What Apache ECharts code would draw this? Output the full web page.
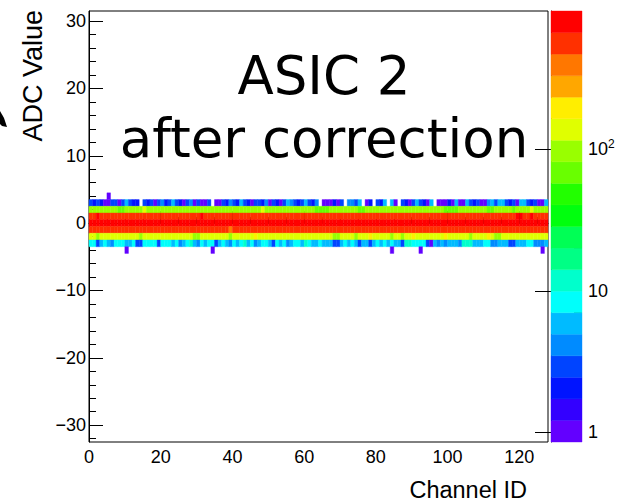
<!DOCTYPE html>
<html>
<head>
<meta charset="utf-8">
<script src="https://cdn.jsdelivr.net/npm/echarts@6.0.0/dist/echarts.min.js"></script>
<style>
html,body{margin:0;padding:0;background:#fff}
#chart{width:625px;height:502px}
</style>
</head>
<body>
<div id="chart"></div>
<script>
// counts per channel (0..127) for each ADC value row
const row4 = [
  0,0,0,0,0,1,0,0,0,0,0,0,0,0,0,0, 0,0,0,0,0,0,0,0,0,0,0,0,0,0,0,0,
  0,0,0,0,0,0,0,0,0,0,0,0,0,0,0,0, 0,0,0,0,0,0,0,0,0,0,0,0,0,0,0,0,
  0,0,0,0,0,0,0,0,0,0,0,0,0,0,0,0, 0,0,0,0,0,0,0,0,0,0,0,0,0,0,0,0,
  0,0,0,0,0,0,0,0,0,0,0,0,0,0,0,0, 0,0,0,0,0,0,0,0,0,0,0,0,0,0,0,0]
const row3 = [
  3,2,3,2,1,1,3,3,1,3,6,3,2,2,0,3, 2,3,1,3,4,2,3,6,3,2,1,3,4,1,3,1,
  1,3,0,1,1,3,2,4,3,2,6,3,2,1,3,3, 2,4,1,3,2,1,3,6,4,3,2,3,6,3,2,4,
  0,1,1,1,2,1,3,0,4,4,3,6,0,1,2,0, 3,2,6,0,6,1,0,3,2,1,3,6,3,2,1,6,
  0,1,1,1,2,1,6,1,1,6,3,2,3,1,1,4, 6,3,6,6,3,2,3,1,6,6,3,2,3,1,1,6]
const row2 = [
  96,94,98,93,97,95,92,99,76,78,95,97,93,96,94,128, 95,98,93,96,94,91,97,95,99,93,96,94,98,92,95,97,
  93,96,94,99,92,95,97,93,96,94,98,95,92,96,94,97, 124,95,93,97,94,96,92,98,95,93,97,94,96,95,93,75,
  74,78,77,95,93,97,94,96,92,98,95,76,79,94,96,93, 97,95,93,96,94,98,92,95,97,93,96,94,99,95,93,96,
  94,97,95,78,76,79,77,95,93,96,94,98,92,95,97,76, 77,95,93,96,94,98,75,93,96,94,97,126,95,93,96,94]
const row1 = [
  612,598,702,605,590,617,601,594,608,622,596,611,603,589,615,600, 607,593,619,604,598,612,590,606,617,601,595,609,620,597,604,698,
  611,596,603,618,592,607,600,614,599,606,621,593,610,602,597,615, 604,591,612,598,607,619,595,603,610,597,616,601,594,608,613,599,
  606,618,593,602,611,596,605,620,598,609,592,614,603,597,610,601, 616,594,607,599,612,603,590,618,605,596,611,600,608,593,615,602,
  597,610,604,619,592,606,613,598,601,617,595,609,603,612,596,620, 605,599,611,594,608,615,600,705,696,612,603,708,597,610,604,618]
const row0 = [
  842,831,856,825,848,837,819,852,840,828,861,834,845,823,850,838, 829,855,841,820,847,836,858,827,843,832,849,824,853,839,830,846,
  835,857,822,844,851,833,826,848,840,859,828,845,837,821,854,842, 831,849,838,824,856,843,829,847,835,852,826,841,858,833,846,820,
  850,837,844,828,855,832,841,823,848,836,859,827,845,834,851,839, 825,853,842,830,847,821,856,838,833,849,827,844,835,852,840,829,
  846,834,857,822,843,850,831,839,854,826,845,836,828,851,841,833, 848,824,855,837,842,830,853,845,827,839,850,832,846,821,858,840]
const rowM1 = [
  583,571,590,566,579,594,575,587,569,582,596,573,588,577,565,591, 578,585,570,593,581,567,589,576,584,572,595,580,568,586,574,592,
  579,570,588,583,566,594,577,425,585,573,590,581,569,587,575,592, 582,571,589,578,595,567,584,576,591,572,586,580,568,593,579,574,
  588,575,583,569,592,581,577,590,566,585,573,594,579,571,587,582, 576,591,568,584,580,573,589,578,595,570,586,581,567,592,575,583,
  590,572,585,579,568,594,577,583,571,588,580,566,593,576,584,574, 589,581,570,592,578,585,567,590,575,583,572,588,580,569,594,577]
const rowM2 = [
  140,138,105,145,142,150,137,148,141,139,152,144,136,147,108,143, 149,141,138,155,146,140,144,137,151,142,139,148,143,110,104,146,
  141,150,138,145,142,137,149,112,144,140,153,139,146,141,170,138, 145,142,139,150,137,144,148,141,143,139,152,140,146,138,145,142,
  148,139,144,141,107,109,146,142,138,150,106,143,140,147,178,141, 145,139,152,140,103,144,141,111,146,138,172,143,140,149,141,145,
  139,147,142,168,140,145,138,151,143,140,108,146,141,139,149,180, 142,110,105,145,140,148,138,144,151,139,146,141,143,137,149,142]
const rowM3 = [
  8,8,3,6,8,6,4,8,8,8,6,6,8,3,3,8, 8,8,8,3,8,8,8,6,8,4,6,8,11,6,4,8,
  6,8,8,3,6,8,6,4,8,6,8,11,6,8,4,6, 8,8,6,3,8,6,8,4,6,8,8,6,11,8,6,6,
  8,6,6,6,3,3,6,8,6,8,6,3,6,6,3,6, 8,6,8,6,8,6,6,3,11,11,8,8,8,8,3,1,
  6,4,6,4,6,6,6,4,11,11,11,6,6,6,8,8, 4,4,6,6,6,3,3,6,6,6,8,8,4,4,4,6]
const rowM4 = [
  0,0,0,0,0,0,0,0,0,0,1,0,0,0,0,0, 0,0,0,0,0,0,0,0,0,0,0,0,0,0,0,0,
  0,0,1,0,0,0,0,0,0,0,0,0,0,0,0,0, 0,0,0,0,0,0,0,0,0,0,0,0,0,0,0,0,
  0,0,0,0,0,0,0,0,0,0,0,0,0,0,0,0, 0,0,0,0,1,0,0,0,0,0,0,0,1,0,0,0,
  0,0,0,0,0,0,0,0,0,0,0,0,0,0,0,0, 0,0,0,0,0,0,0,0,0,0,0,0,0,0,1,0]

const adcValues = [4, 3, 2, 1, 0, -1, -2, -3, -4]
const adcRows = [row4, row3, row2, row1, row0, rowM1, rowM2, rowM3, rowM4]

const xTickValues = [0, 20, 40, 60, 80, 100, 120]
const xMinorTicks = [5,10,15,25,30,35,45,50,55,65,70,75,85,90,95,105,110,115,125]
const yTickValues = [-30, -20, -10, 0, 10, 20, 30]
const yMinorTicks = [-32,-28,-26,-24,-22,-18,-16,-14,-12,-8,-6,-4,-2,2,4,6,8,12,14,16,18,22,24,26,28]
const zTickValues = [1, 10, 100]
const zMinorTicks = [2,3,4,5,6,7,8,9,20,30,40,50,60,70,80,90,200,300,400,500,600,700,800,900]

const zMin = 0.855
const zMax = 948
// ROOT rainbow palette, 20 contour levels, bottom to top
const levelColors = [
  '#6300ff','#3300ff','#0014ff','#0044ff','#008bff','#00bbff','#00fffb','#00ffcc','#00ff85','#00ff55',
  '#00ff0e','#22ff00','#69ff00','#99ff00','#e0ff00','#ffee00','#ffa700','#ff7700','#ff3000','#ff0000'
]

const logMin = Math.log10(zMin)
const logMax = Math.log10(zMax)
const logStep = (logMax - logMin) / levelColors.length

function colorFor(count) {
  let k = Math.floor((Math.log10(count) - logMin) / logStep)
  if (k < 0) k = 0
  if (k > levelColors.length - 1) k = levelColors.length - 1
  return levelColors[k]
}

const cells = []
adcRows.forEach((row, r) => {
  row.forEach((count, ch) => {
    if (count > 0) cells.push([ch, adcValues[r], count])
  })
})

const bands = levelColors.map((c, k) => [k, logMin + k * logStep, logMin + (k + 1) * logStep])

const fmtSigned = v => v < 0 ? '\u2212' + (-v) : String(v)
const labelFont = 'Liberation Sans, Arial, sans-serif'

const chart = echarts.init(document.getElementById('chart'), null, { renderer: 'svg' })

const option = {
  backgroundColor: '#fff',
  animation: false,
  grid: [
    { left: 89, right: 77, top: 11, bottom: 60, show: true, borderColor: '#000', borderWidth: 1 },
    { left: 551, width: 31, top: 11, bottom: 60 }
  ],
  xAxis: [
    {
      type: 'value', gridIndex: 0, min: 0, max: 128, position: 'bottom',
      axisLine: { show: true, lineStyle: { color: '#000', width: 1 } },
      axisTick: { show: true, inside: true, length: 12, customValues: xTickValues, lineStyle: { color: '#000' } },
      axisLabel: { customValues: xTickValues, color: '#000', fontSize: 18, fontFamily: labelFont, margin: 6 },
      splitLine: { show: false }
    },
    {
      type: 'value', gridIndex: 0, min: 0, max: 128, position: 'bottom',
      axisLine: { show: false },
      axisTick: { show: true, inside: true, length: 6, customValues: xMinorTicks, lineStyle: { color: '#000' } },
      axisLabel: { show: false },
      splitLine: { show: false }
    },
    {
      type: 'value', gridIndex: 1, min: 0, max: 1, show: false
    }
  ],
  yAxis: [
    {
      type: 'value', gridIndex: 0, min: -32.5, max: 31.5, position: 'left',
      axisLine: { show: true, lineStyle: { color: '#000', width: 1 } },
      axisTick: { show: true, inside: true, length: 14, customValues: yTickValues, lineStyle: { color: '#000' } },
      axisLabel: { customValues: yTickValues, formatter: fmtSigned, color: '#000', fontSize: 18, fontFamily: labelFont, margin: 3 },
      splitLine: { show: false }
    },
    {
      type: 'value', gridIndex: 0, min: -32.5, max: 31.5, position: 'left',
      axisLine: { show: false },
      axisTick: { show: true, inside: true, length: 7, customValues: yMinorTicks, lineStyle: { color: '#000' } },
      axisLabel: { show: false },
      splitLine: { show: false }
    },
    {
      type: 'value', gridIndex: 1, min: logMin, max: logMax, position: 'right',
      axisLine: { show: true, lineStyle: { color: '#000', width: 1 } },
      axisTick: { show: true, inside: true, length: 16, customValues: zTickValues.map(v => Math.log10(v)), lineStyle: { color: '#000' } },
      axisLabel: {
        customValues: zTickValues.map(v => Math.log10(v)),
        formatter: v => {
          const n = Math.round(v)
          if (n === 0) return '1'
          if (n === 1) return '10'
          return '{b|10}{s|' + n + '}'
        },
        rich: {
          b: { fontSize: 18, fontFamily: labelFont, color: '#000', lineHeight: 22 },
          s: { fontSize: 12, fontFamily: labelFont, color: '#000', lineHeight: 12, verticalAlign: 'top' }
        },
        color: '#000', fontSize: 18, fontFamily: labelFont, margin: 6
      },
      splitLine: { show: false }
    },
    {
      type: 'value', gridIndex: 1, min: logMin, max: logMax, position: 'right',
      axisLine: { show: false },
      axisTick: { show: true, inside: true, length: 8, customValues: zMinorTicks.map(v => Math.log10(v)), lineStyle: { color: '#000' } },
      axisLabel: { show: false },
      splitLine: { show: false }
    }
  ],
  series: [
    {
      type: 'custom', coordinateSystem: 'cartesian2d', xAxisIndex: 0, yAxisIndex: 0,
      data: cells,
      z: 1,
      renderItem: function (params, api) {
        const ch = api.value(0), adc = api.value(1), count = api.value(2)
        const p0 = api.coord([ch, adc + 0.5])
        const p1 = api.coord([ch + 1, adc - 0.5])
        const c = colorFor(count)
        return {
          type: 'rect',
          shape: { x: p0[0], y: p0[1], width: p1[0] - p0[0], height: p1[1] - p0[1] },
          style: { fill: c, stroke: c, lineWidth: 0.4 }
        }
      }
    },
    {
      type: 'custom', coordinateSystem: 'cartesian2d', xAxisIndex: 2, yAxisIndex: 2,
      data: bands,
      renderItem: function (params, api) {
        const k = api.value(0)
        const p0 = api.coord([0, api.value(2)])
        const p1 = api.coord([1, api.value(1)])
        return {
          type: 'rect',
          shape: { x: p0[0], y: p0[1], width: p1[0] - p0[0], height: p1[1] - p0[1] },
          style: { fill: levelColors[k], stroke: levelColors[k], lineWidth: 0.4 }
        }
      }
    }
  ],
  graphic: [
    { type: 'text', x: 324, y: 75, z: 10,
      style: { text: 'ASIC 2', font: '53px "DejaVu Sans"', fill: '#000', textAlign: 'center', textVerticalAlign: 'middle' } },
    { type: 'text', x: 324, y: 138, z: 10,
      style: { text: 'after correction', font: '53px "DejaVu Sans"', fill: '#000', textAlign: 'center', textVerticalAlign: 'middle' } },
    { type: 'text', x: 33, y: 10, rotation: Math.PI / 2,
      style: { text: 'ADC Value', font: '27px "Liberation Sans"', fill: '#000', textAlign: 'right', textVerticalAlign: 'middle' } },
    { type: 'text', x: 527, y: 490,
      style: { text: 'Channel ID', font: '23.5px "Liberation Sans"', fill: '#000', textAlign: 'right', textVerticalAlign: 'middle' } },
    { type: 'polygon', shape: { points: [[0, 111], [4, 118], [7, 127], [2, 126], [0, 124]] }, style: { fill: '#000' } }
  ]
}

chart.setOption(option)
</script>
</body>
</html>
